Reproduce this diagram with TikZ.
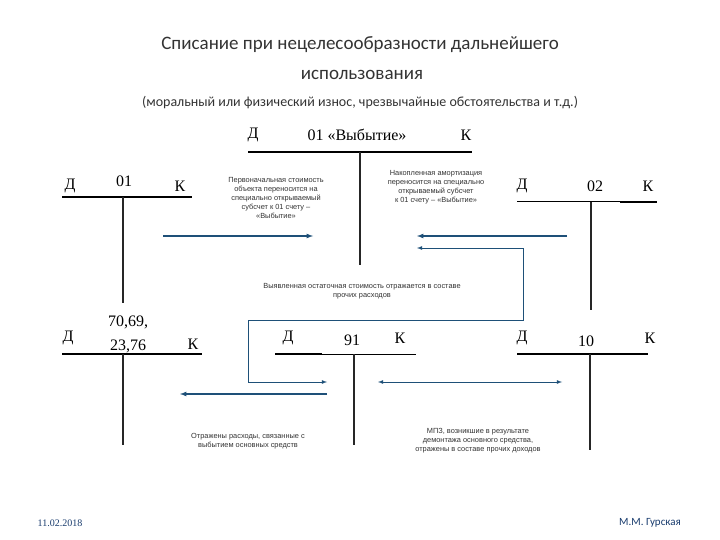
\documentclass[tikz,border=0pt]{standalone}
\usepackage{fontspec}
\setmainfont{Liberation Serif}
\newfontfamily\tfont{Carlito}
\newfontfamily\sfont{Liberation Sans}
\definecolor{arrc}{RGB}{30,80,120}
\definecolor{footc}{RGB}{25,60,110}
\begin{document}
\begin{tikzpicture}[x=1pt,y=-1pt,
  tline/.style={line width=2.5pt,black},
  vline/.style={line width=1.6pt,black!85},
  arr/.style={line width=1.2pt,color=arrc,-latex},
  arrt/.style={line width=0.8pt,color=arrc,-latex},
  lab/.style={font=\fontsize{16}{16}\selectfont},
  small/.style={font=\sfont\fontsize{7.4}{9}\selectfont,align=center,text=black!80}]
\useasboundingbox[fill=white] (0,0) rectangle (720,540);
\node[font=\tfont\fontsize{19}{22}\selectfont,text=black!80] (t1) at (360,45) {Списание при нецелесообразности дальнейшего};
\node[font=\tfont\fontsize{19}{22}\selectfont,text=black!80] (t2) at (362,75) {использования};
\node[font=\tfont\fontsize{14}{16}\selectfont,text=black!80] (t3) at (360,103) {(моральный или физический износ, чрезвычайные обстоятельства и т.д.)};
% top T
\draw[tline] (248,152) -- (472,152);
\draw[vline] (360,152) -- (360,265);
\node[lab] (a1) at (253,135) {Д};
\node[lab] (a2) at (357,135) {01 «Выбытие»};
\node[lab] (a3) at (466,135) {К};
% T01
\draw[tline] (62,197) -- (192,197);
\draw[vline] (123,197) -- (123,303);
\node[lab] (b1) at (70,186) {Д};
\node[lab] (b2) at (124,181) {01};
\node[lab] (b3) at (180,186) {К};
% T02
\draw[line width=1pt] (517,202) -- (620,202);
\draw[tline] (620,202) -- (657,202);
\draw[vline] (591,202) -- (591,310);
\node[lab] (c1) at (522,186) {Д};
\node[lab] (c2) at (595,186) {02};
\node[lab] (c3) at (648,186) {К};
% T70
\draw[tline] (62,354) -- (202,354);
\draw[vline] (123,354) -- (123,445);
\node[lab] (d1) at (68,338) {Д};
\node[lab] (d2) at (128,322) {70,69,};
\node[lab] (d3) at (128,346) {23,76};
\node[lab] (d4) at (193,344) {К};
% T91
\draw[tline] (275,354) -- (322,354);
\draw[line width=1pt] (322,354) -- (416,354);
\draw[vline] (354,354) -- (354,445);
\node[lab] (e1) at (288,338) {Д};
\node[lab] (e2) at (352,340) {91};
\node[lab] (e3) at (400,338) {К};
% T10
\draw[tline] (517,354) -- (648,354);
\draw[vline] (590,354) -- (590,450);
\node[lab] (f1) at (522,338) {Д};
\node[lab] (f2) at (586,341) {10};
\node[lab] (f3) at (650,338) {К};
% arrows
\coordinate (p1) at (163,236); \coordinate (p2) at (313,236);
\draw[arr] (p1) -- (p2);
\coordinate (q1) at (567,236); \coordinate (q2) at (417,236);
\draw[arr] (q1) -- (q2);
\coordinate (r1) at (417,248); \coordinate (r2) at (327,382);
\draw[arrt,latex-latex] (r1) -| (523,320) -| (248,382) -- (r2);
\coordinate (s1) at (327,394); \coordinate (s2) at (180,394);
\draw[arr] (s1) -- (s2);
\coordinate (u1) at (378,382); \coordinate (u2) at (562,382);
\draw[arrt,latex-latex] (u1) -- (u2);
% texts
\node[small] (x1) at (276,198) {Первоначальная стоимость\\объекта переносится на\\специально открываемый\\субсчет к 01 счету –\\«Выбытие»};
\node[small] (x2) at (436,187) {Накопленная амортизация\\переносится на специально\\открываемый субсчет\\к 01 счету – «Выбытие»};
\node[small] (x3) at (362,291) {Выявленная остаточная стоимость отражается в составе\\прочих расходов};
\node[small] (x4) at (248,441) {Отражены расходы, связанные с\\выбытием основных средств};
\node[small] (x5) at (478,441) {МПЗ, возникшие в результате\\демонтажа основного средства,\\отражены в составе прочих доходов};
\node[font=\fontsize{10}{12}\selectfont,text=footc] (g1) at (60,523) {11.02.2018};
\node[font=\tfont\fontsize{11}{12}\selectfont,text=footc] (g2) at (650,523) {М.М. Гурская};
\end{tikzpicture}
\end{document}
